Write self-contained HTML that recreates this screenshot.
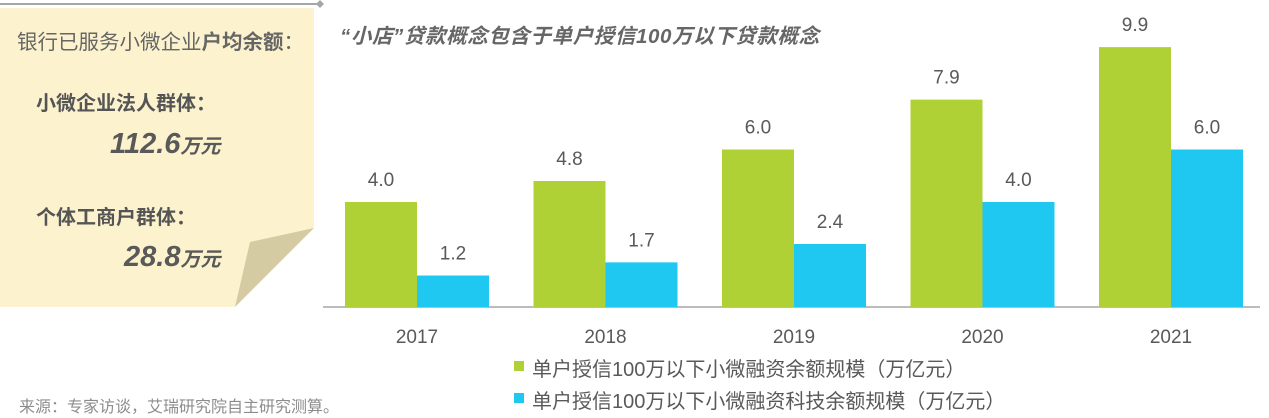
<!DOCTYPE html>
<html><head><meta charset="utf-8"><style>
body{margin:0;width:1269px;height:418px;background:#fff;overflow:hidden;position:relative;font-family:"Liberation Sans","Noto Sans CJK SC",sans-serif;}
.t{position:absolute;white-space:nowrap;color:#595959;}
</style></head><body>
<svg width="1269" height="418" style="position:absolute;left:0;top:0">
<line x1="0" y1="4" x2="318" y2="4" stroke="#a6a6a6" stroke-width="2"/>
<polygon points="320,0 324,4 320,8 316,4" fill="#a6a6a6"/>
<polygon points="0,8 314,8 314,228 235,307 0,307" fill="#fcf3ce"/>
<polygon points="250,242 314,228 235,307" fill="#d5cba3"/>
<line x1="323" y1="307" x2="1260" y2="307" stroke="#a6a6a6" stroke-width="1.5"/>
<g id="bars"></g>
<rect x="514" y="361" width="10" height="10" fill="#afd136"/>
<rect x="514" y="393" width="10" height="10" fill="#1fc8f0"/>
</svg>
<div class="t" style="left:17px;top:25px;font-size:20.5px;color:#666">银行已服务小微企业<b>户均余额</b>：</div>
<div class="t" style="left:36px;top:87px;font-size:20px;font-weight:bold;color:#555">小微企业法人群体：</div>
<div class="t" style="left:110px;top:128px;font-size:29px;font-weight:bold;font-style:italic;color:#595959">112.6<span style="font-size:20px">万元</span></div>
<div class="t" style="left:36px;top:201px;font-size:20px;font-weight:bold;color:#555">个体工商户群体：</div>
<div class="t" style="left:124px;top:241px;font-size:29px;font-weight:bold;font-style:italic;color:#595959">28.8<span style="font-size:20px">万元</span></div>
<div class="t" style="left:340px;top:19px;font-size:20.5px;letter-spacing:0.6px;font-weight:bold;font-style:italic;color:#666">“小店”贷款概念包含于单户授信100万以下贷款概念</div>
<div class="t" style="left:532px;top:353px;font-size:20px">单户授信100万以下小微融资余额规模（万亿元）</div>
<div class="t" style="left:532px;top:385px;font-size:20px">单户授信100万以下小微融资科技余额规模（万亿元）</div>
<div class="t" style="left:19px;top:393px;font-size:16px;color:#8c8c8c">来源：专家访谈，艾瑞研究院自主研究测算。</div>
<script>
const years=["2017","2018","2019","2020","2021"];
const totalLoans=[4.0,4.8,6.0,7.9,9.9];
const techLoans=[1.2,1.7,2.4,4.0,6.0];
const NS="http://www.w3.org/2000/svg";
const g=document.getElementById('bars');
const base=307,unit=26.25,x0=345,step=188.5,bw=72;
function yv(v){return base-v*unit;}
function xg(i){return x0+i*step;}
function label(x,y,txt,size,name){
  const t=document.createElementNS(NS,'text');
  t.setAttribute('x',x);t.setAttribute('y',y);t.setAttribute('text-anchor','middle');
  t.setAttribute('font-size',size);t.setAttribute('fill','#595959');
  t.setAttribute('font-family','"Liberation Sans",sans-serif');
  t.textContent=txt;
  
  
  g.appendChild(t);
}
years.forEach((yr,i)=>{
  [[totalLoans,'#afd136',0,'green'],[techLoans,'#1fc8f0',1,'blue']].forEach(([arr,c,k,nm])=>{
    const r=document.createElementNS(NS,'rect');
    const x=xg(i)+k*bw;
    r.setAttribute('x',x);r.setAttribute('y',yv(arr[i]));
    r.setAttribute('width',bw);r.setAttribute('height',arr[i]*unit);r.setAttribute('fill',c);
    
    
    g.appendChild(r);
    label(x+bw/2,yv(arr[i])-16,arr[i].toFixed(1),19,'value-'+nm+'-'+yr);
  });
  label(xg(i)+bw,343,yr,19,'x-tick-'+yr);
});
</script>
</body></html>
